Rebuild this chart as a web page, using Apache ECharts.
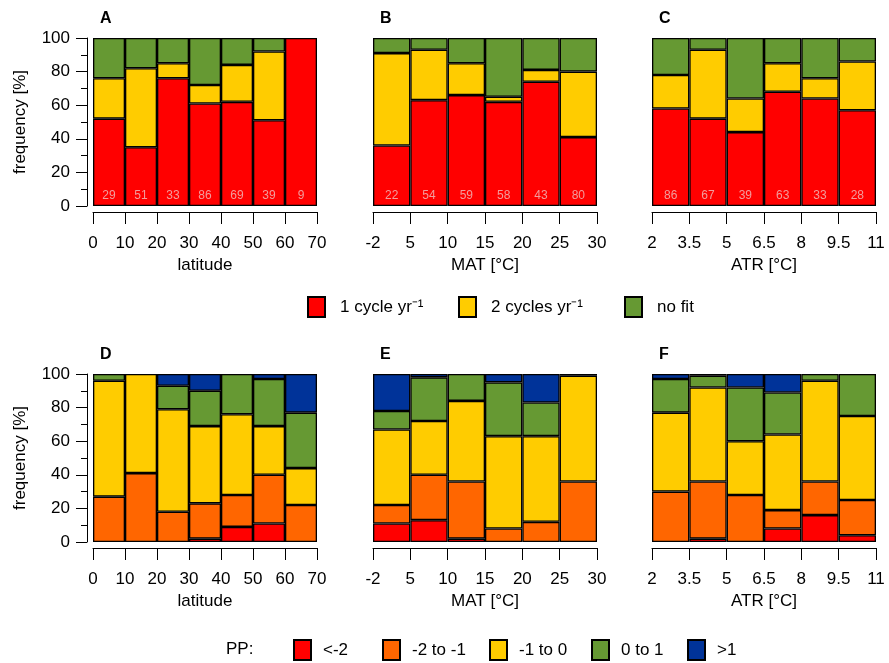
<!DOCTYPE html>
<html><head><meta charset="utf-8">
<script src="https://cdn.jsdelivr.net/npm/echarts@6/dist/echarts.min.js"></script>
<style>html,body{margin:0;padding:0;background:#fff}#c{width:889px;height:663px}</style>
</head><body><div id="c"></div>
<script>
// ---- tick labels ----
const latTicks = ['0','10','20','30','40','50','60','70'];
const matTicks = ['-2','5','10','15','20','25','30'];
const atrTicks = ['2','3.5','5','6.5','8','9.5','11'];

// ---- series names ----
const cycleNames = ['1 cycle yr\u207B\u00B9','2 cycles yr\u207B\u00B9','no fit'];
const ppNames = ['<-2','-2 to -1','-1 to 0','0 to 1','>1'];

// ---- panel A (latitude) ----
const aOne   = [52,35,76,61,62,51,100];
const aTwo   = [24,47,9,11,22,41,0];
const aNoFit = [24,18,15,28,16,8,0];
const aCounts = [29,51,33,86,69,39,9];
// ---- panel B (MAT) ----
const bOne   = [36,63,66,62,74,41];
const bTwo   = [55,30,19,3,7,39];
const bNoFit = [9,7,15,35,19,20];
const bCounts = [22,54,59,58,43,80];
// ---- panel C (ATR) ----
const cOne   = [58,52,44,68,64,57];
const cTwo   = [20,41,20,17,12,29];
const cNoFit = [22,7,36,15,24,14];
const cCounts = [86,67,39,63,33,28];

// ---- panel D (latitude, PP) ----
const dLtM2  = [0,0,0,2,9,11,0];
const dM2M1  = [27,41,18,21,19,29,22];
const dM1_0  = [69,59,61,46,48,29,22];
const d0_1   = [4,0,14,21,24,28,33];
const dGt1   = [0,0,7,10,0,3,23];
// ---- panel E (MAT, PP) ----
const eLtM2  = [11,13,2,0,0,0];
const eM2M1  = [11,27,34,8,12,36];
const eM1_0  = [45,32,48,55,51,63];
const e0_1   = [11,26,16,32,20,1];
const eGt1   = [22,2,0,5,17,0];
// ---- panel F (ATR, PP) ----
const fLtM2  = [0,2,0,8,16,4];
const fM2M1  = [30,34,28,11,20,21];
const fM1_0  = [47,56,32,45,60,50];
const f0_1   = [20,7,32,25,4,25];
const fGt1   = [3,1,8,11,0,0];

const cycleColors = ['#ff0000','#ffcc00','#669933'];
const ppColors = ['#ff0000','#ff6600','#ffcc00','#669933','#003399'];

const lefts = [93,373,652];
const tops = [38,374];
const W = 224, H = 168;

const panels = [
 {letter:'A', ticks:latTicks, data:[aOne,aTwo,aNoFit], names:cycleNames, colors:cycleColors, counts:aCounts, xName:'latitude', showY:true, col:0, row:0},
 {letter:'B', ticks:matTicks, data:[bOne,bTwo,bNoFit], names:cycleNames, colors:cycleColors, counts:bCounts, xName:'MAT [\u00B0C]', showY:false, col:1, row:0},
 {letter:'C', ticks:atrTicks, data:[cOne,cTwo,cNoFit], names:cycleNames, colors:cycleColors, counts:cCounts, xName:'ATR [\u00B0C]', showY:false, col:2, row:0},
 {letter:'D', ticks:latTicks, data:[dLtM2,dM2M1,dM1_0,d0_1,dGt1], names:ppNames, colors:ppColors, counts:null, xName:'latitude', showY:true, col:0, row:1},
 {letter:'E', ticks:matTicks, data:[eLtM2,eM2M1,eM1_0,e0_1,eGt1], names:ppNames, colors:ppColors, counts:null, xName:'MAT [\u00B0C]', showY:false, col:1, row:1},
 {letter:'F', ticks:atrTicks, data:[fLtM2,fM2M1,fM1_0,f0_1,fGt1], names:ppNames, colors:ppColors, counts:null, xName:'ATR [\u00B0C]', showY:false, col:2, row:1}
];

const FS = 17;
const option = {
  animation:false,
  textStyle:{fontFamily:'Liberation Sans, Arial, Helvetica, sans-serif'},
  grid:[], xAxis:[], yAxis:[], series:[], title:[], legend:[]
};

panels.forEach((p,i)=>{
  option.grid.push({left:lefts[p.col], top:tops[p.row], width:W, height:H, containLabel:false});
  option.xAxis.push({type:'category', gridIndex:i, data:p.ticks.slice(1), show:false});
  option.xAxis.push({
    type:'category', gridIndex:i, data:p.ticks, boundaryGap:false, position:'bottom', offset:6,
    axisLine:{show:true, lineStyle:{color:'#000', width:1}},
    axisTick:{show:true, length:12, lineStyle:{color:'#000', width:1}},
    axisLabel:{interval:0, margin:23, fontSize:FS, color:'#000'},
    splitLine:{show:false},
    name:p.xName, nameLocation:'middle', nameGap:45,
    nameTextStyle:{fontSize:FS, color:'#000'}
  });
  option.yAxis.push({
    type:'value', gridIndex:i, min:0, max:100, interval:20, show:p.showY, offset:6,
    axisLine:{show:true, lineStyle:{color:'#000', width:1}},
    axisTick:{show:true, length:11, lineStyle:{color:'#000', width:1}},
    minorTick:{show:true, splitNumber:2, length:6, lineStyle:{color:'#000', width:1}},
    splitLine:{show:false}, minorSplitLine:{show:false},
    axisLabel:{margin:17, fontSize:FS, color:'#000'},
    name:'frequency [%]', nameLocation:'middle', nameGap:58,
    nameTextStyle:{fontSize:FS, color:'#000'}
  });
  p.data.forEach((arr,k)=>{
    const s = {
      type:'bar', name:p.names[k], xAxisIndex:2*i, yAxisIndex:i, stack:'s'+i,
      barCategoryGap:'0%',
      data:arr.map(v=>v===0?'-':v),
      itemStyle:{color:p.colors[k], borderColor:'#000', borderWidth:1.3},
      emphasis:{disabled:true}
    };
    if(k===0 && p.counts){
      const cnt = p.counts;
      s.label = {show:true, position:'insideBottom', distance:4, fontSize:12, color:'#f29c9c',
                 formatter:(prm)=>String(cnt[prm.dataIndex])};
    }
    option.series.push(s);
  });
  option.title.push({text:p.letter, left:lefts[p.col]+7, top:tops[p.row]-27, padding:0,
    textStyle:{fontSize:16, fontWeight:'bold', color:'#000'}});
});

option.title.push({text:'PP:', left:226, top:641, padding:0, textStyle:{fontSize:FS, fontWeight:'normal', color:'#000'}});

const topLegLeft = [307,458,624];
cycleNames.forEach((n,k)=>{
  option.legend.push({data:[n], left:topLegLeft[k], top:296, padding:0, itemWidth:17, itemHeight:20,
    icon:'rect', selectedMode:false, textStyle:{fontSize:FS, color:'#000', padding:[0,0,0,10]}});
});
const botLegLeft = [293,382,489,591,687];
ppNames.forEach((n,k)=>{
  option.legend.push({data:[n], left:botLegLeft[k], top:639, padding:0, itemWidth:17, itemHeight:20,
    icon:'rect', selectedMode:false, textStyle:{fontSize:FS, color:'#000', padding:[0,0,0,7]}});
});

const chart = echarts.init(document.getElementById('c'), null, {renderer:'canvas'});
chart.setOption(option);
</script>
</body></html>
